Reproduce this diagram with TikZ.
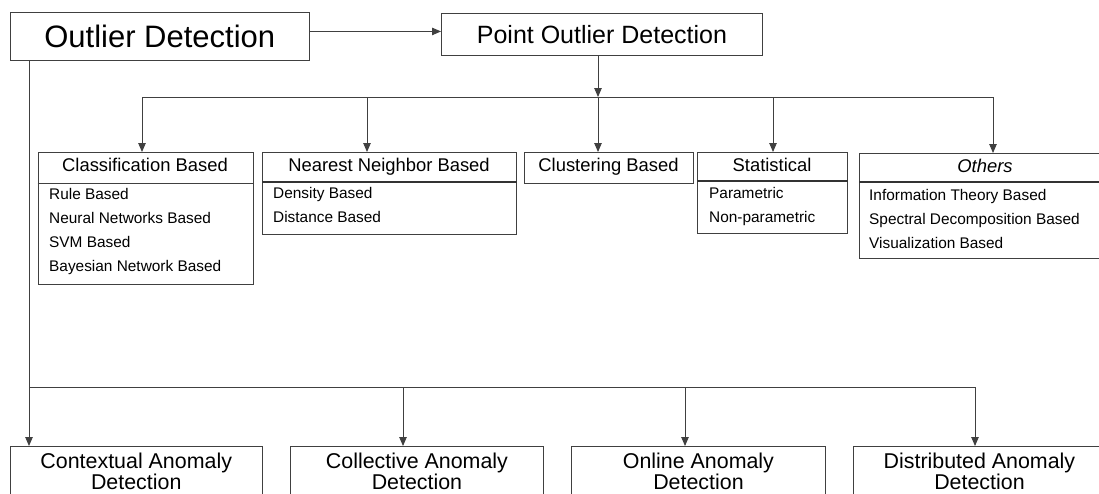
\documentclass[tikz,border=0pt]{standalone}
\usepackage{fontspec}
\setmainfont{Liberation Sans}
\usetikzlibrary{arrows.meta}
\begin{document}
\begin{tikzpicture}[x=1pt,y=-1pt,
  ln/.style={draw=black!75, line width=0.9pt},
  arr/.style={ln, -{Triangle[length=9pt,width=7.5pt]}},
  box/.style={draw=black!75, line width=0.9pt, rectangle, inner sep=0pt, anchor=north west},
  divl/.style={draw=black!80, line width=1.5pt},
  hd/.style={font=\fontsize{18.4}{20}\selectfont, anchor=base, inner sep=0pt},
  it/.style={font=\fontsize{15.4}{24.3}\selectfont, anchor=base west, inner sep=0pt},
  bt/.style={font=\fontsize{21.4}{19}\selectfont, anchor=north, inner sep=0pt, align=center},
]
\useasboundingbox (0,0) rectangle (1099,493);
\clip (0,0) rectangle (1099,493);

% top boxes
\node[box, minimum width=299.4pt, minimum height=48pt] (od) at (9.6,12) {};
\node[font=\fontsize{31}{31}\selectfont, inner sep=0pt] (odt) at (od.center) {Outlier Detection};
\node[box, minimum width=321pt, minimum height=42pt] (pod) at (441,13) {};
\node[font=\fontsize{25}{25}\selectfont, inner sep=0pt] (podt) at (pod.center) {Point Outlier Detection};
\draw[arr] ([yshift=5pt]od.east) -- ([yshift=5pt]od.east -| pod.west);

% middle boxes
\node[box, minimum width=215.3pt, minimum height=132pt] (cls) at (37.7,152) {};
\node[box, minimum width=254pt, minimum height=82pt] (nn) at (262,152) {};
\node[box, minimum width=169pt, minimum height=31pt] (clu) at (524,152) {};
\node[box, minimum width=150pt, minimum height=81pt] (st) at (697,152) {};
\node[box, minimum width=252pt, minimum height=105pt] (oth) at (859,153) {};

\draw[ln] (cls.west |- 0,183) -- (cls.east |- 0,183);
\draw[divl] (nn.west |- 0,182) -- (nn.east |- 0,182);
\draw[divl] (st.west |- 0,181) -- (st.east |- 0,181);
\draw[divl] (oth.west |- 0,182) -- (oth.east |- 0,182);

\node[hd] (clsh) at (145,171) {Classification Based};
\node[hd] (nnh) at (389,171) {Nearest Neighbor Based};
\node[hd] (cluh) at (608.5,171) {Clustering Based};
\node[hd] (sth) at (772,171) {Statistical};
\node[hd] (othh) at (985,172) {\itshape Others};

\node[it] (clsi) at (49,199) {\begin{tabular}[t]{@{}l@{}}Rule Based\\Neural Networks Based\\SVM Based\\Bayesian Network Based\end{tabular}};
\node[it] (nni) at (273,198) {\begin{tabular}[t]{@{}l@{}}Density Based\\Distance Based\end{tabular}};
\node[it] (sti) at (709,198) {\begin{tabular}[t]{@{}l@{}}Parametric\\Non-parametric\end{tabular}};
\node[it] (othi) at (869,200) {\begin{tabular}[t]{@{}l@{}}Information Theory Based\\Spectral Decomposition Based\\Visualization Based\end{tabular}};

% branch from point outlier detection
\coordinate (b0) at (598,97);
\coordinate (b1) at (142,97);
\coordinate (b2) at (367,97);
\coordinate (b4) at (773,97);
\coordinate (b5) at (993,97);
\draw[arr] (pod.south -| b0) -- (b0);
\draw[ln] (b1) -- (b5);
\draw[arr] (b1) -- (cls.north -| b1);
\draw[arr] (b2) -- (nn.north -| b2);
\draw[arr] (b0) -- (clu.north -| b0);
\draw[arr] (b4) -- (st.north -| b4);
\draw[arr] (b5) -- (oth.north -| b5);

% bottom boxes
\node[box, minimum width=252.4pt, minimum height=70pt] (ctx) at (9.6,446) {};
\node[box, minimum width=253pt, minimum height=70pt] (col) at (290,446) {};
\node[box, minimum width=254pt, minimum height=70pt] (onl) at (571,446) {};
\node[box, minimum width=252pt, minimum height=70pt] (dis) at (853,446) {};

\node[bt] (ctxt) at (ctx.north |- 0,453) {Contextual Anomaly\\Detection};
\node[bt] (colt) at (col.north |- 0,453) {Collective Anomaly\\Detection};
\node[bt] (onlt) at (onl.north |- 0,453) {Online Anomaly\\Detection};
\node[bt] (dist) at (dis.north |- 0,453) {Distributed Anomaly\\Detection};

\coordinate (c0) at (29,387);
\coordinate (c2) at (403,387);
\coordinate (c3) at (685,387);
\coordinate (c4) at (975,387);
\draw[arr] (od.south -| c0) -- (ctx.north -| c0);
\draw[ln] (c0) -- (c4);
\draw[arr] (c2) -- (col.north -| c2);
\draw[arr] (c3) -- (onl.north -| c3);
\draw[arr] (c4) -- (dis.north -| c4);
\end{tikzpicture}
\end{document}
